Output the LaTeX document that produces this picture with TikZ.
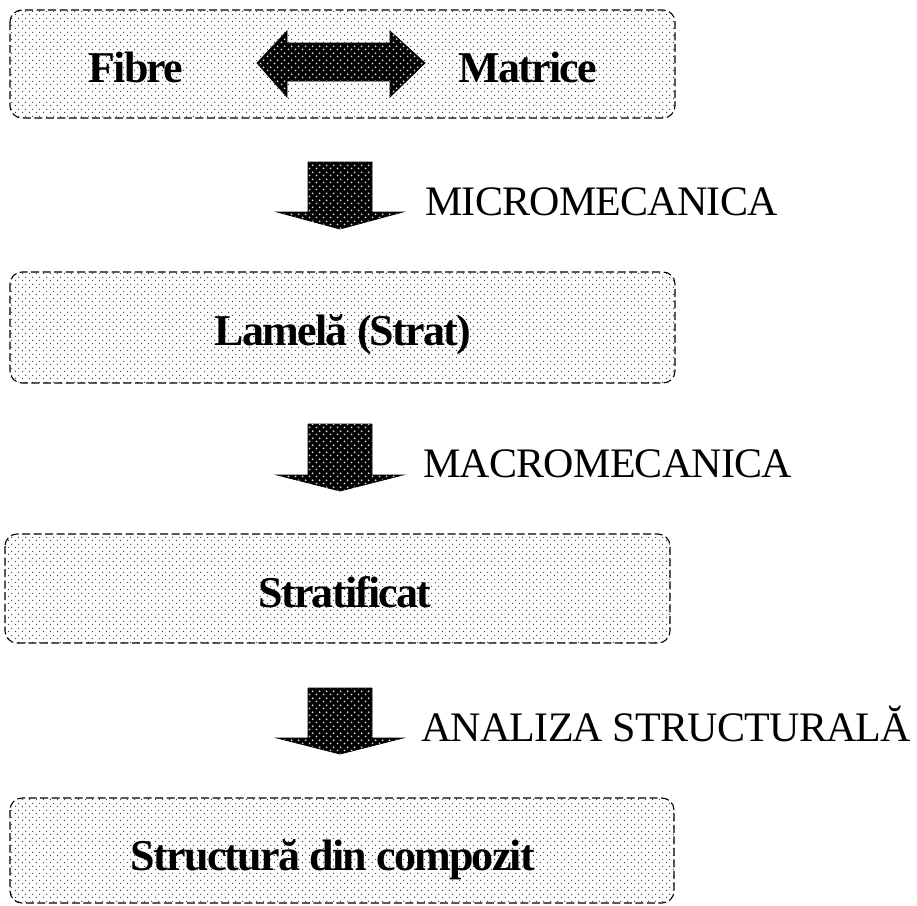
\documentclass[tikz,border=0pt]{standalone}
\usepackage{fontspec}
\setmainfont{Liberation Serif}[LetterSpace=-4]
\newfontfamily\labelfont{Liberation Serif}[LetterSpace=-1.8]
\usetikzlibrary{patterns.meta}
\tikzdeclarepattern{name=mydots, type=uncolored,
  bounding box={(0,0) and (7pt,7pt)}, tile size={(7pt,7pt)},
  code={\fill (1.75pt,1.75pt) circle (0.8pt); \fill (5.25pt,5.25pt) circle (0.8pt);}}
\tikzdeclarepattern{name=bigdots, type=uncolored,
  bounding box={(0,0) and (7pt,7pt)}, tile size={(7pt,7pt)},
  code={\fill (1.75pt,1.75pt) circle (1.1pt); \fill (5.25pt,5.25pt) circle (1.1pt);}}
\tikzset{
  boxstyle/.style={draw, line width=1.1pt, dash pattern=on 8pt off 3.5pt,
    rounded corners=12pt, pattern=mydots, pattern color=black!75},
  blockarrow/.style={draw, line width=0.8pt, line join=miter, fill=black,
    postaction={pattern=bigdots, pattern color=white!85!black}},
  boxtext/.style={inner sep=0pt, anchor=base, font=\fontsize{44}{44}\selectfont\bfseries},
  labeltext/.style={inner sep=0pt, anchor=base west, font=\labelfont\fontsize{42}{42}\selectfont}
}
\begin{document}
\begin{tikzpicture}[x=1pt, y=-1pt]
\useasboundingbox (0,0) rectangle (917,905);
% boxes
\path[boxstyle] (10,10) rectangle (675,118);
\path[boxstyle] (10,272) rectangle (675,383);
\path[boxstyle] (5,534) rectangle (670,643);
\path[boxstyle] (10,798) rectangle (674,903);
% double arrow
\path[blockarrow] (257,63) -- (287,31) -- (287,43) -- (390,43) -- (390,31) -- (425,63)
  -- (390,97) -- (390,81) -- (287,81) -- (287,97) -- cycle;
% down arrows
\path[blockarrow] (308,162) -- (372,162) -- (372,212) -- (403,212) -- (340,229) -- (277,212) -- (308,212) -- cycle;
\path[blockarrow] (308,424) -- (372,424) -- (372,475) -- (403,475) -- (340,491) -- (277,475) -- (308,475) -- cycle;
\path[blockarrow] (308,688) -- (372,688) -- (372,738) -- (403,738) -- (340,754) -- (277,738) -- (308,738) -- cycle;
% box texts
\node[boxtext] (fibre) at (136,82) {Fibre};
\node[boxtext] (matrice) at (528,82) {Matrice};
\node[boxtext] (lamela) at (343,345) {Lamelă (Strat)};
\node[boxtext] (strat) at (345,607) {Stratificat};
\node[boxtext] (struct) at (333,870) {Structură din compozit};
% labels
\node[labeltext] (micro) at (425,215) {MICROMECANICA};
\node[labeltext] (macro) at (423,477) {MACROMECANICA};
\node[labeltext] (analiza) at (421,741) {ANALIZA STRUCTURALĂ};
\end{tikzpicture}
\end{document}
